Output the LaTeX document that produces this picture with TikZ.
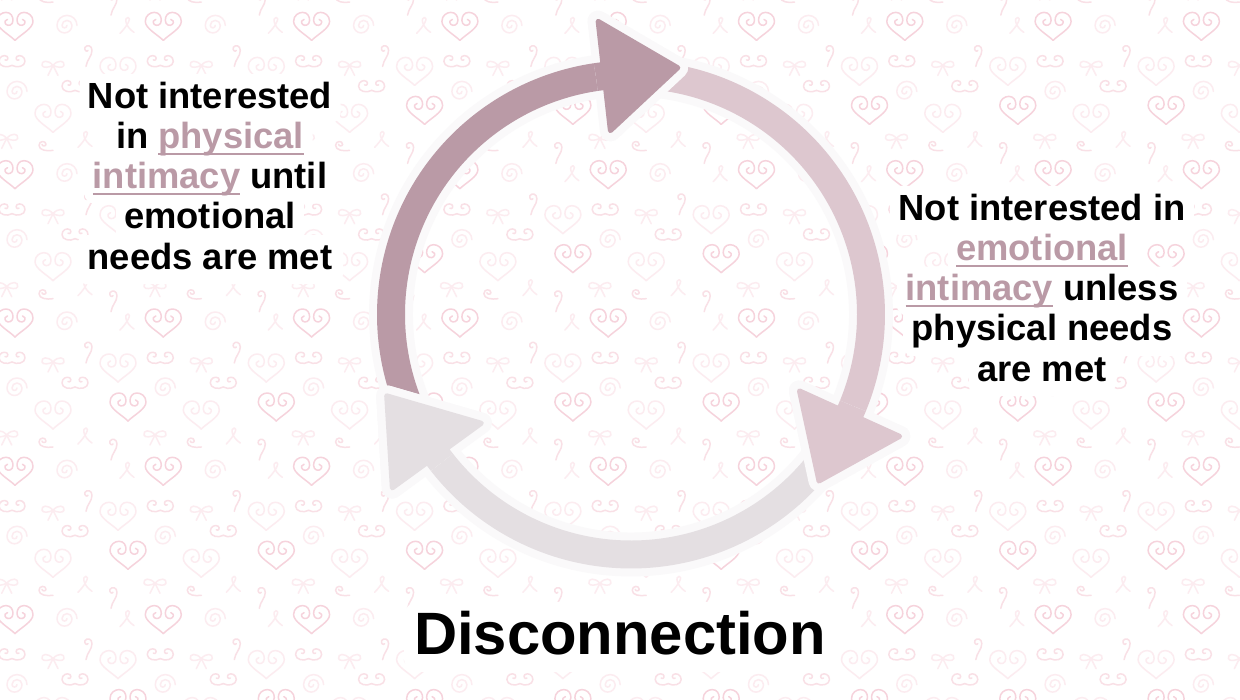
\documentclass[tikz,border=0pt]{standalone}
\usepackage{fontspec}
\setmainfont{Liberation Sans}
\usetikzlibrary{calc}
\definecolor{mauve}{HTML}{BA9AA6}
\definecolor{pinkarc}{HTML}{DDC7CF}
\definecolor{grayarc}{HTML}{E4DFE2}
\definecolor{halo}{HTML}{FAF9FA}
\definecolor{patA}{HTML}{F6D3DC}
\definecolor{patM}{HTML}{F9E0E6}
\definecolor{patB}{HTML}{FCECF0}
\newlength\hlw
\newcommand\myul[1]{\settowidth\hlw{#1}\rlap{\rule[-6.3pt]{\hlw}{1.8pt}}#1}
\newcommand\hl[1]{{\color{mauve}\myul{#1}}}
% one cycle arrow: #1 start angle, #2 back angle, #3 tip length, #4 tip tilt, #5 colour
\newcommand\cyclearrow[5]{%
  \path[preaction={draw=halo, line width=21, line join=round},
        fill=#5, draw=#5, line width=5, line join=round]
    (#1:251.5) arc[start angle=#1, end angle=#2, radius=251.5]
    -- (#2:295) -- ($(#2:240)+({#2-90+#4}:#3)$) -- (#2:185) -- (#2:228.5)
    arc[start angle=#2, end angle=#1, radius=228.5] -- cycle;}
\newcommand\headagain[5]{%
  \begin{scope}
    \clip (0,0) -- ({#2+2}:420) arc[start angle={#2+2}, end angle={#2-32}, radius=420] -- cycle;
    \cyclearrow{#1}{#2}{#3}{#4}{#5}
  \end{scope}}
% white glow behind one line of text: centre x, baseline y, width
\newcommand\glowline[3]{\fill[white, rounded corners=10] ({#1-#3/2-8},{#2-15}) rectangle ({#1+#3/2+8},{#2+34});}
\tikzset{
  pat/.style={line width=1.5, line cap=round, line join=round},
  pics/cheart/.style={code={
    \draw[pat] (0,-14) .. controls (-6,-8) and (-18,-2) .. (-18,5) .. controls (-18,11) and (-13,14) .. (-9,14) .. controls (-4,14) and (-2,10) .. (-2,6) .. controls (-2,1) and (-7,0) .. (-9,2) .. controls (-11,4) and (-10,7) .. (-7.5,7);
    \draw[pat] (0,-14) .. controls (6,-8) and (18,-2) .. (18,5) .. controls (18,11) and (13,14) .. (9,14) .. controls (4,14) and (2,10) .. (2,6) .. controls (2,1) and (7,0) .. (9,2) .. controls (11,4) and (10,7) .. (7.5,7);}},
  pics/spiral/.style={code={
    \draw[pat] (10,0) arc[start angle=0,end angle=180,radius=10] arc[start angle=180,end angle=360,radius=7.5] arc[start angle=0,end angle=180,radius=5] arc[start angle=180,end angle=360,radius=2.5];}},
  pics/qcurl/.style={code={
    \draw[pat] (-1,-13) .. controls (0,-6) and (5,-3) .. (5,3) .. controls (5,8) and (0,9) .. (-2,6) .. controls (-3,3) and (0,1) .. (1,3);}},
  pics/dswirl/.style={code={
    \draw[pat] (0,-4) .. controls (-5,-7) and (-13,-5) .. (-13,0) .. controls (-13,5) and (-8,7) .. (-5,5) .. controls (-3,3) and (-5,0) .. (-7,1.5);
    \draw[pat] (0,-4) .. controls (5,-7) and (13,-5) .. (13,0) .. controls (13,5) and (8,7) .. (5,5) .. controls (3,3) and (5,0) .. (7,1.5);}},
  pics/bow/.style={code={
    \draw[pat] (0,0) .. controls (-5,6) and (-12,5) .. (-11,0) .. controls (-10,-3) and (-4,-2) .. (0,0) .. controls (4,-2) and (10,-3) .. (11,0) .. controls (12,5) and (5,6) .. (0,0);
    \draw[pat] (-5,-10) .. controls (-3,-5) .. (0,0) .. controls (3,-5) .. (5,-10);}},
  pics/rloop/.style={code={
    \draw[pat] (-7,-7) .. controls (0,0) and (5,9) .. (1,9) .. controls (-3,9) and (-2,0) .. (7,-6);}},
  pics/ecurl/.style={code={
    \draw[pat] (8,-5) .. controls (2,-6) and (-6,-5) .. (-6,0) .. controls (-6,5) and (1,5) .. (1,1) .. controls (1,-1) and (-3,-1) .. (-3,1);}},
  txt/.style={font=\bfseries\fontsize{36.5}{40.3}\selectfont, align=center, inner sep=0pt, text=black},
  titletxt/.style={font=\bfseries\fontsize{60}{72}\selectfont, inner sep=0pt, text=black},
}
\begin{document}
\begin{tikzpicture}[x=1bp, y=1bp]
\useasboundingbox (0,0) rectangle (1240,700);
\fill[white] (0,0) rectangle (1240,700);
% background pattern
\begin{scope}
  \clip (0,0) rectangle (1240,700);
  \foreach \i in {-1,...,8}{\foreach \j in {-1,...,5}{
    \begin{scope}[shift={({15+148.3*\i},{673.6-148.3*\j})}]
      \pic[color=patA] at (0,0) {cheart};
      \pic[color=patA] at (113,-84) {cheart};
      \pic[color=patB] at (103,-45) {cheart};
      \pic[color=patB] at (38,-92) {cheart};
      \pic[color=patB] at (52,1) {spiral};
      \pic[color=patB] at (2,-65) {spiral};
      \pic[color=patM] at (72,-27) {qcurl};
      \pic[color=patM] at (97,-124) {qcurl};
      \pic[color=patB] at (112,0) {rloop};
      \pic[color=patB] at (70,-114) {rloop};
      \pic[color=patM] at (-3,-35) {dswirl};
      \pic[color=patM] at (60,-60) {dswirl};
      \pic[color=patB] at (38,-39) {bow};
      \pic[color=patB] at (140,-112) {bow};
      \pic[color=patM] at (30,-119) {ecurl};
    \end{scope}
  }}
\end{scope}
% cycle arrows
\begin{scope}[shift={(631,385.5)}]
  \coordinate (C) at (0,0);
  \cyclearrow{206}{96.4}{74}{0}{mauve}
  \cyclearrow{86.4}{-24.4}{74}{0}{pinkarc}
  \cyclearrow{-34.4}{-144}{78}{4}{grayarc}
  \headagain{206}{96.4}{74}{0}{mauve}
  \headagain{86.4}{-24.4}{74}{0}{pinkarc}
  \headagain{-34.4}{-144}{78}{4}{grayarc}
\end{scope}
% white glow behind the texts
\glowline{210}{592}{245}
\glowline{210}{551.7}{189}
\glowline{210}{511.4}{235}
\glowline{210}{471.1}{172}
\glowline{210}{430.8}{250}
\glowline{1042}{480}{288}
\glowline{1042}{439.7}{172}
\glowline{1042}{399.4}{274}
\glowline{1042}{359.1}{262}
\glowline{1042}{318.8}{130}
\fill[white, rounded corners=14] (404,28) rectangle (836,98);
% texts
\node[txt, anchor=north] (lefttxt) at (210,618) {Not interested\\in \hl{physical}\\\hl{intimacy} until\\emotional\\needs are met};
\node[txt, anchor=north] (righttxt) at (1042,506) {Not interested in\\\hl{emotional}\\\hl{intimacy} unless\\physical needs\\are met};
\node[titletxt, anchor=base] (title) at (620,45) {Disconnection};
\end{tikzpicture}
\end{document}
